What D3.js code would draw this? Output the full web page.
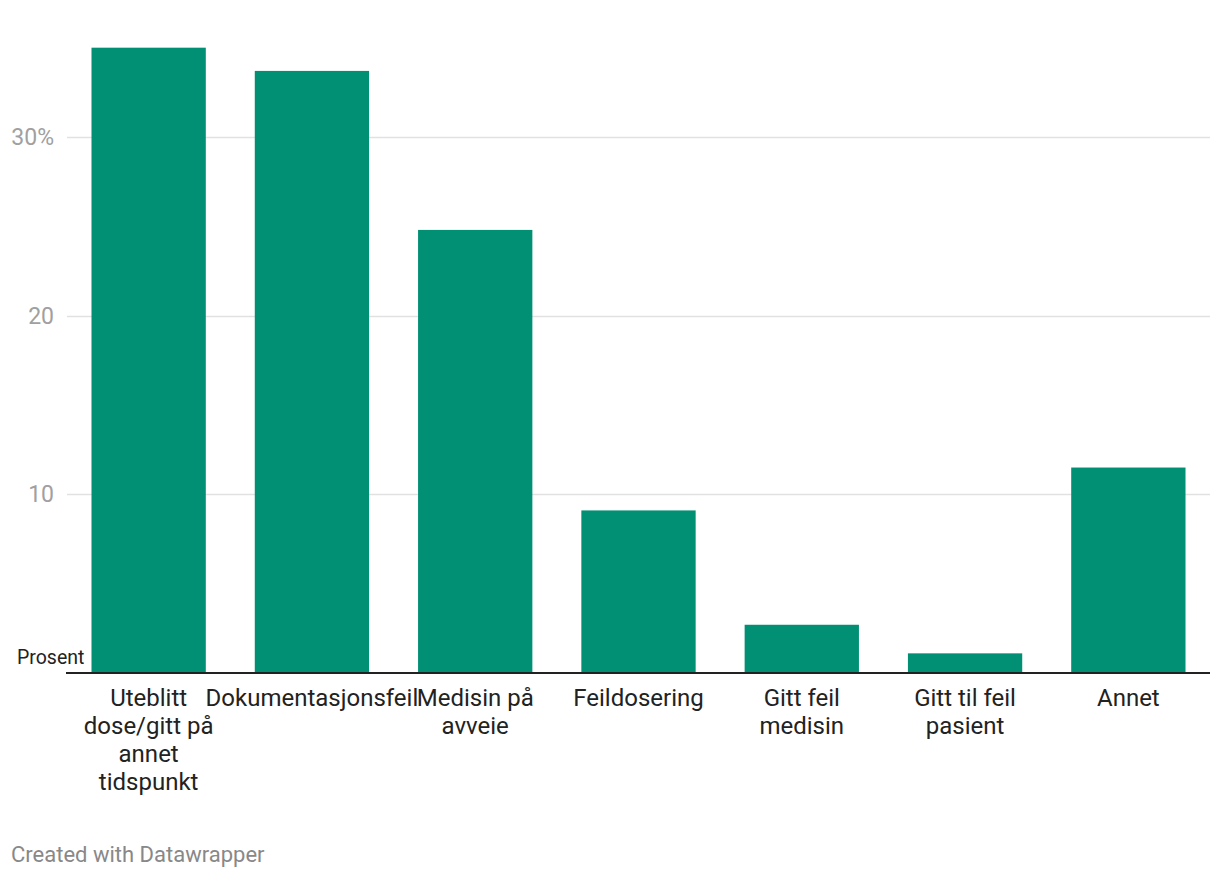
<!DOCTYPE html>
<html><head><meta charset="utf-8">
<script src="https://cdn.jsdelivr.net/npm/d3@7"></script>
<style>
body{margin:0;background:#fff;font-family:Roboto,sans-serif;}
svg{display:block;}
</style></head><body>
<svg id="c" width="1220" height="878"></svg>
<script>
const categories = ["Uteblitt dose/gitt på annet tidspunkt","Dokumentasjonsfeil","Medisin på avveie","Feildosering","Gitt feil medisin","Gitt til feil pasient","Annet"];
const values = [35.0, 33.7, 24.8, 9.1, 2.7, 1.1, 11.5];
const yTicks = [10, 20, 30];
const yTickLabels = ["10", "20", "30%"];

(function () {
const svg = d3.select("#c");
const plotLeft = 67, plotRight = 1210, plotBottom = 673;
const x = d3.scaleBand().domain(categories).range([plotLeft, plotRight]).paddingInner(0.3).paddingOuter(0.15);
const y = d3.scaleLinear().domain([0, 35.43]).range([plotBottom, 40]);

// gridlines
const grid = svg.append("g");
yTicks.forEach((t, i) => {
  grid.append("line").attr("x1", plotLeft).attr("x2", 1210).attr("y1", Math.round(y(t)) + 0.5).attr("y2", Math.round(y(t)) + 0.5)
    .attr("stroke", "#e1e1e1").attr("stroke-width", 1.5);
  grid.append("text").attr("x", 54).attr("y", y(t) + 8).attr("text-anchor", "end")
    .attr("fill", "#a0a0a0").attr("font-size", 23).text(yTickLabels[i]);
});

// bars
svg.append("g").selectAll("rect").data(values).join("rect")
  .attr("x", (d, i) => x(categories[i]))
  .attr("width", x.bandwidth())
  .attr("y", d => y(d))
  .attr("height", d => y(0) - y(d))
  .attr("fill", "#019074");

// baseline
svg.append("line").attr("x1", 66).attr("x2", 1210).attr("y1", y(0)).attr("y2", y(0)).attr("stroke", "#222").attr("stroke-width", 2);

svg.append("text").attr("x", 17).attr("y", 664).attr("fill", "#222").attr("font-size", 19.5).text("Prosent");

// x labels with wrapping
const fs = 24, maxW = 148;
const xg = svg.append("g");
categories.forEach(c => {
  const cx = x(c) + x.bandwidth() / 2;
  const t = xg.append("text").attr("text-anchor", "middle").attr("font-size", fs).attr("fill", "#222")
    .attr("x", cx).attr("y", 706);
  const words = c.split(" ");
  let lines = [], cur = [];
  const meas = xg.append("text").attr("font-size", fs);
  words.forEach(w => {
    const test = cur.concat([w]).join(" ");
    meas.text(test);
    if (cur.length && meas.node().getComputedTextLength() > maxW) { lines.push(cur.join(" ")); cur = [w]; }
    else cur.push(w);
  });
  lines.push(cur.join(" "));
  meas.remove();
  lines.forEach((l, i) => t.append("tspan").attr("x", cx).attr("dy", i ? 28 : 0).text(l));
});

svg.append("text").attr("x", 11).attr("y", 862).attr("fill", "#888").attr("font-size", 22).text("Created with Datawrapper");
})();
</script></body></html>
